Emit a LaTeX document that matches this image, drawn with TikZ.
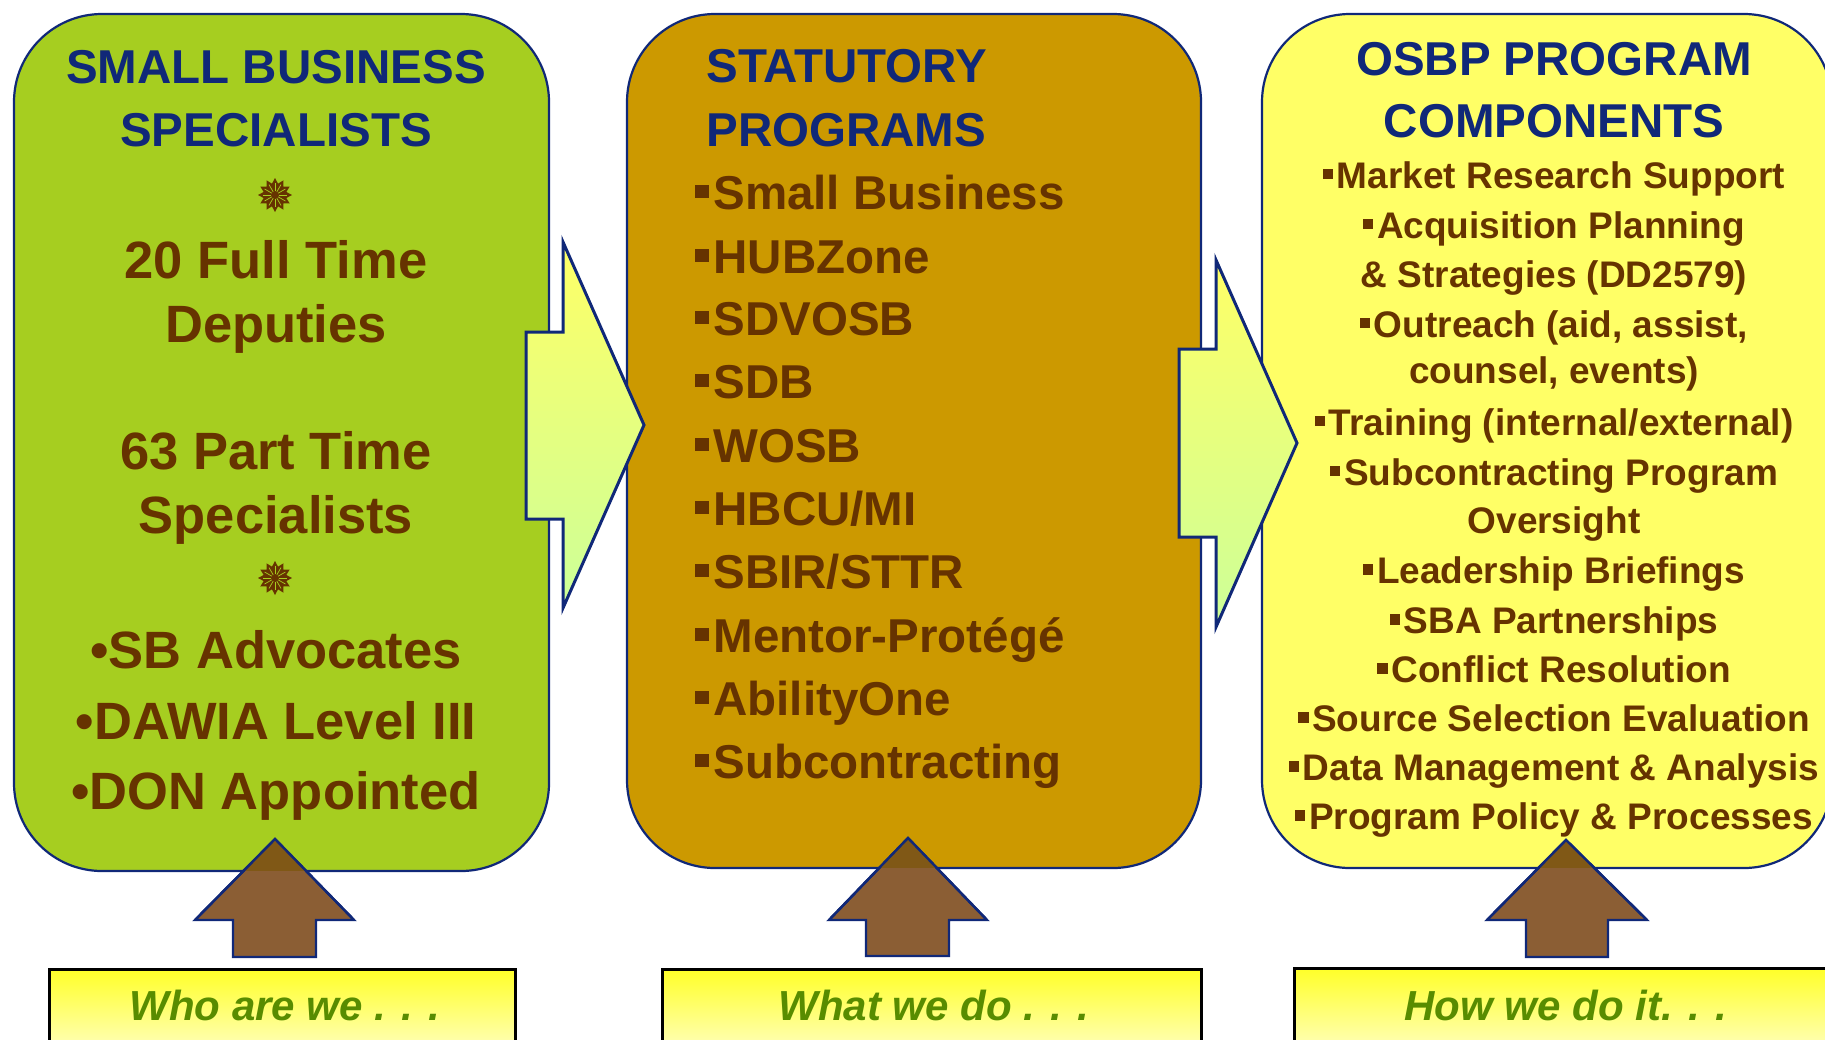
\documentclass[tikz,border=0pt]{standalone}
\usepackage{fontspec}
\setmainfont{Liberation Sans}
\usetikzlibrary{shapes.geometric}
\definecolor{navy}{RGB}{16,40,120}
\definecolor{boxgreen}{RGB}{166,206,32}
\definecolor{boxbrown}{RGB}{204,153,0}
\definecolor{boxyellow}{RGB}{255,255,102}
\definecolor{txtbrown}{RGB}{102,51,0}
\definecolor{txtgreen}{RGB}{88,140,0}
\definecolor{arrbrown}{RGB}{139,94,52}
\definecolor{tipcol}{RGB}{128,88,22}
\definecolor{arrtop}{RGB}{255,255,102}
\definecolor{arrbot}{RGB}{204,255,153}
\definecolor{labtop}{RGB}{255,255,40}
\definecolor{labbot}{RGB}{255,255,205}
\newcommand{\sqb}{\rule[0.23em]{0.28em}{0.28em}\hspace{0.1em}}
\tikzset{
  panel/.style={draw=navy, line width=1.1pt, rounded corners=44pt},
  rarrow/.style={draw=navy, line width=1.5pt, top color=arrtop, bottom color=arrbot, line join=miter},
  uarrow/.style={draw=navy, line width=1.2pt, fill=arrbrown, line join=miter},
  labbox/.style={draw=black, line width=1.5pt, top color=labtop, bottom color=labbot},
  head/.style={inner sep=0pt, anchor=base, text=navy, font=\fontsize{23.75}{28}\selectfont\bfseries},
  headl/.style={head, anchor=base west},
  gbody/.style={inner sep=0pt, anchor=base, text=txtbrown, font=\fontsize{26.25}{30}\selectfont\bfseries},
  blist/.style={inner sep=0pt, anchor=base west, text=txtbrown, font=\fontsize{23.75}{28}\selectfont\bfseries},
  ylist/.style={inner sep=0pt, anchor=base, text=txtbrown, font=\fontsize{18.5}{22}\selectfont\bfseries},
  labtext/.style={inner sep=0pt, anchor=base, text=txtgreen, font=\fontsize{21}{25}\selectfont\bfseries\itshape},
  flower/.style={star, star points=12, star point ratio=1.45, minimum size=17pt, inner sep=0pt, fill=txtbrown},
  slit/.style={boxgreen, line width=0.35pt}
}
\begin{document}
\begin{tikzpicture}[x=0.5pt,y=-0.5pt]
\path[use as bounding box] (0,0) rectangle (1825,1039);
\clip (0,0) rectangle (1825,1039);
\fill[white] (0,0) rectangle (1825,1039);

% panels
\draw[panel, fill=boxgreen] (14,14) rectangle (549,871);
\draw[panel, fill=boxbrown] (627,14) rectangle (1201,868);
\draw[panel, fill=boxyellow] (1262,14) rectangle (1832,868);

% right arrows
\draw[rarrow] (526,332) -- (563,332) -- (563,242) -- (644,425) -- (563,608) -- (563,519) -- (526,519) -- cycle;
\draw[rarrow] (1179,349) -- (1216,349) -- (1216,260) -- (1297,443) -- (1216,627) -- (1216,537) -- (1179,537) -- cycle;

% up arrows
\draw[uarrow] (275,839) -- (354,920) -- (316,920) -- (316,957) -- (233,957) -- (233,920) -- (195,920) -- cycle;
\draw[uarrow] (908,838) -- (987,920) -- (949,920) -- (949,956) -- (866,956) -- (866,920) -- (829,920) -- cycle;
\draw[uarrow] (1566,840) -- (1647,920) -- (1608,920) -- (1608,957) -- (1526,957) -- (1526,920) -- (1487,920) -- cycle;
\begin{scope}
  \clip (275,839) -- (354,920) -- (195,920) -- cycle;
  \fill[tipcol] (14,14) rectangle (549,871);
\end{scope}
\begin{scope}
  \clip (908,838) -- (987,920) -- (829,920) -- cycle;
  \fill[tipcol] (627,14) rectangle (1201,868);
\end{scope}
\begin{scope}
  \clip (1566,840) -- (1647,920) -- (1487,920) -- cycle;
  \fill[tipcol] (1262,14) rectangle (1832,868);
\end{scope}
\draw[navy, line width=1.2pt, line join=miter] (195,920) -- (275,839) -- (354,920);
\draw[navy, line width=1.2pt, line join=miter] (829,920) -- (908,838) -- (987,920);
\draw[navy, line width=1.2pt, line join=miter] (1487,920) -- (1566,840) -- (1647,920);

% bottom label boxes
\draw[labbox] (49,969) rectangle (515,1060);
\draw[labbox] (662,969) rectangle (1201,1060);
\draw[labbox] (1294,968) rectangle (1840,1060);
\node[labtext] (who) at (285,1020) {Who are we . . .};
\node[labtext] (what) at (934,1020) {What we do . . .};
\node[labtext] (how) at (1566,1020) {How we do it. . .};

% green panel text
\node[head] (g1) at (276,83) {SMALL BUSINESS};
\node[head] (g2) at (276,146) {SPECIALISTS};
\node[flower] (s1) at (275,195) {};
\foreach \a in {0,30,...,330} \draw[slit] (s1.center) ++(90+\a:1.8pt) -- ++(90+\a:4.2pt);
\node[gbody] (g3) at (276,278) {20 Full Time};
\node[gbody] (g4) at (276,342) {Deputies};
\node[gbody] (g5) at (276,469) {63 Part Time};
\node[gbody] (g6) at (276,533) {Specialists};
\node[flower] (s2) at (275,578) {};
\foreach \a in {0,30,...,330} \draw[slit] (s2.center) ++(90+\a:1.8pt) -- ++(90+\a:4.2pt);
\node[gbody] (g7) at (276,668) {•SB Advocates};
\node[gbody] (g8) at (276,739) {•DAWIA Level III};
\node[gbody] (g9) at (276,809) {•DON Appointed};

% brown panel text
\node[headl] (b0) at (706,82) {STATUTORY};
\node[headl] (b00) at (706,146) {PROGRAMS};
\node[blist] (b1) at (695,209) {\sqb Small Business};
\node[blist] (b2) at (695,273) {\sqb HUBZone};
\node[blist] (b3) at (695,335) {\sqb SDVOSB};
\node[blist] (b4) at (695,398) {\sqb SDB};
\node[blist] (b5) at (695,462) {\sqb WOSB};
\node[blist] (b6) at (695,525) {\sqb HBCU/MI};
\node[blist] (b7) at (695,588) {\sqb SBIR/STTR};
\node[blist] (b8) at (695,652) {\sqb Mentor-Protégé};
\node[blist] (b9) at (695,715) {\sqb AbilityOne};
\node[blist] (b10) at (695,778) {\sqb Subcontracting};

% yellow panel text
\node[head] (y0) at (1554,75) {OSBP PROGRAM};
\node[head] (y00) at (1554,137) {COMPONENTS};
\node[ylist] (y1) at (1554,188) {\sqb Market Research Support};
\node[ylist] (y2) at (1554,238) {\sqb Acquisition Planning};
\node[ylist] (y3) at (1554,287) {\& Strategies (DD2579)};
\node[ylist] (y4) at (1554,337) {\sqb Outreach (aid, assist,};
\node[ylist] (y5) at (1554,383) {counsel, events)};
\node[ylist] (y6) at (1554,435) {\sqb Training (internal/external)};
\node[ylist] (y7) at (1554,485) {\sqb Subcontracting Program};
\node[ylist] (y8) at (1554,533) {Oversight};
\node[ylist] (y9) at (1554,583) {\sqb Leadership Briefings};
\node[ylist] (y10) at (1554,633) {\sqb SBA Partnerships};
\node[ylist] (y11) at (1554,682) {\sqb Conflict Resolution};
\node[ylist] (y12) at (1554,731) {\sqb Source Selection Evaluation};
\node[ylist] (y13) at (1554,780) {\sqb Data Management \& Analysis};
\node[ylist] (y14) at (1554,829) {\sqb Program Policy \& Processes};
\end{tikzpicture}
\end{document}
